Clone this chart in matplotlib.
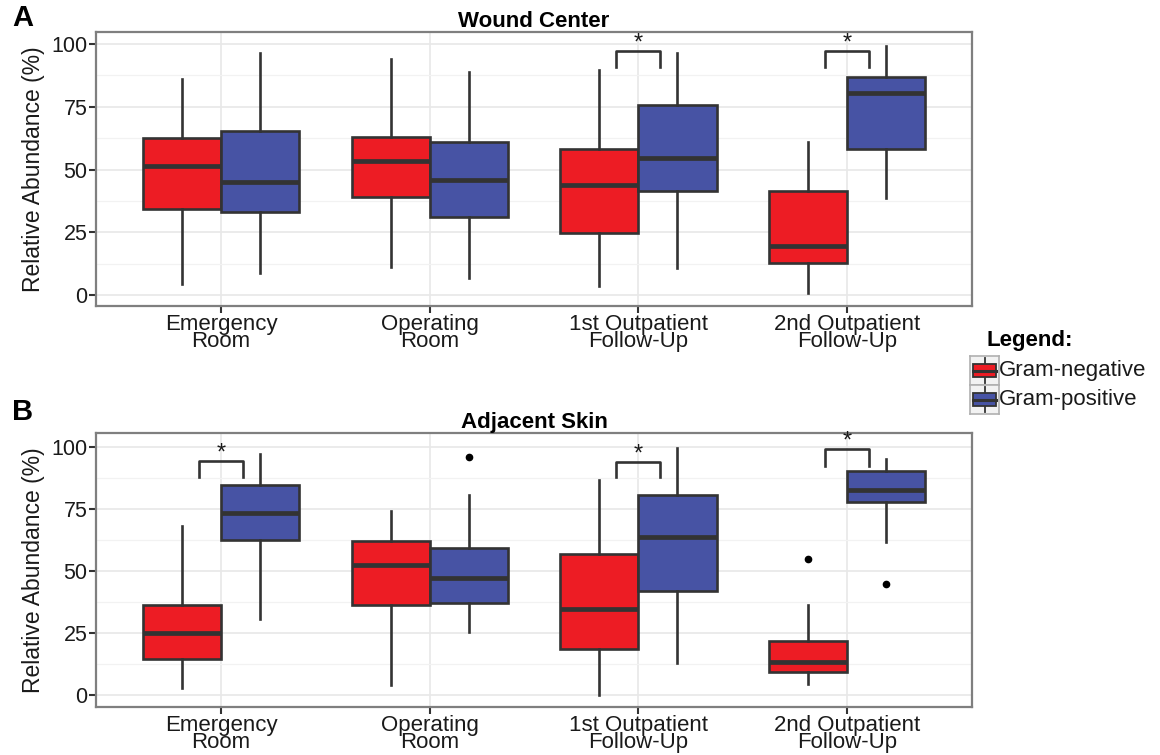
import matplotlib
matplotlib.use("Agg")
import matplotlib.pyplot as plt
from matplotlib.patches import Rectangle

plt.rcParams['font.family'] = ['Liberation Sans', 'DejaVu Sans']

groups = ["Emergency\nRoom", "Operating\nRoom", "1st Outpatient\nFollow-Up", "2nd Outpatient\nFollow-Up"]
series = ["Gram-negative", "Gram-positive"]
colors = ["#ED1C24", "#4753A4"]

# box stats per group: whislo, q1, med, q3, whishi
wound_neg = [[4.4, 34.3, 51.4, 62.5, 86.0],
             [11.0, 39.0, 53.5, 63.0, 94.0],
             [3.6, 24.5, 44.0, 58.0, 89.6],
             [0.8, 12.7, 19.5, 41.4, 61.0]]
wound_pos = [[8.8, 33.0, 45.0, 65.3, 96.4],
             [6.8, 31.0, 45.8, 61.0, 89.0],
             [10.8, 41.4, 54.6, 75.7, 96.4],
             [38.6, 58.0, 80.5, 86.9, 99.2]]
wound_neg_out = [[], [], [], []]
wound_pos_out = [[], [], [], []]

skin_neg = [[2.8, 14.5, 25.0, 36.3, 68.0],
            [4.0, 36.3, 52.4, 62.0, 74.0],
            [0.0, 18.5, 34.7, 56.9, 86.7],
            [4.4, 9.3, 13.3, 21.8, 36.3]]
skin_pos = [[30.6, 62.5, 73.4, 84.7, 97.0],
            [25.4, 37.0, 47.2, 59.3, 80.6],
            [12.9, 41.9, 63.7, 80.6, 99.6],
            [61.7, 77.8, 82.7, 90.3, 95.2]]
skin_neg_out = [[], [], [], [54.8]]
skin_pos_out = [[], [96.0], [], [44.8]]

# significant comparisons: (group index, bracket bottom, bracket top)
wound_sig = [(2, 90.8, 97.2), (3, 90.8, 97.2)]
skin_sig = [(0, 87.9, 94.4), (2, 87.9, 94.0), (3, 92.3, 99.2)]

edge = "#333333"
txt = "#1a1a1a"


def make_stats(vals, outs):
    st = []
    for v, o in zip(vals, outs):
        st.append(dict(whislo=v[0], q1=v[1], med=v[2], q3=v[3], whishi=v[4], fliers=o))
    return st


def draw_panel(ax, neg, pos, neg_out, pos_out, sig, title, ylim):
    xs = list(range(1, len(groups) + 1))
    w = 0.375
    for k, (vals, outs) in enumerate([(neg, neg_out), (pos, pos_out)]):
        p = [x + (k - 0.5) * w for x in xs]
        ax.bxp(make_stats(vals, outs), positions=p, widths=w, patch_artist=True,
               showcaps=False,
               boxprops=dict(facecolor=colors[k], edgecolor=edge, linewidth=1.9),
               medianprops=dict(color=edge, linewidth=3.4),
               whiskerprops=dict(color=edge, linewidth=1.9),
               flierprops=dict(marker='o', markerfacecolor='black', markeredgecolor='black',
                               markersize=4.5),
               zorder=3)
    for g, lo, hi in sig:
        c = g + 1
        ax.plot([c - 0.105, c - 0.105, c + 0.105, c + 0.105], [lo, hi, hi, lo],
                color=edge, linewidth=1.9, zorder=4)
        ax.text(c, hi - 1.5, "*", ha='center', va='bottom', fontsize=17, color=txt)
    ax.set_xlim(0.4, 4.6)
    ax.set_ylim(*ylim)
    ax.set_xticks(xs)
    ax.set_xticklabels(groups, fontsize=16, color=txt, linespacing=0.75)
    ax.set_yticks([0, 25, 50, 75, 100])
    ax.set_yticklabels(["0", "25", "50", "75", "100"], fontsize=15.5, color=txt)
    ax.set_yticks([12.5, 37.5, 62.5, 87.5], minor=True)
    ax.tick_params(axis='both', which='major', direction='out', length=5, width=1.5,
                   color=edge, pad=1)
    ax.tick_params(axis='y', which='minor', length=0)
    ax.grid(True, which='major', color='#e8e8e8', linewidth=1.2, zorder=0)
    ax.grid(True, which='minor', axis='y', color='#f2f2f2', linewidth=0.9, zorder=0)
    ax.set_axisbelow(True)
    for s in ax.spines.values():
        s.set_color('#7f7f7f')
        s.set_linewidth(1.6)
    ax.set_ylabel("Relative Abundance (%)", fontsize=16.5, color=txt, labelpad=5)
    ax.set_title(title, fontsize=16, fontweight='bold', color='black', pad=3)


fig = plt.figure(figsize=(11.6, 7.55), dpi=100)
axA = fig.add_axes([96 / 1160, 1 - 306 / 755, 876 / 1160, 274 / 755])
axB = fig.add_axes([96 / 1160, 1 - 707 / 755, 876 / 1160, 274 / 755])

draw_panel(axA, wound_neg, wound_pos, wound_neg_out, wound_pos_out, wound_sig,
           "Wound Center", (-4.4, 104.8))
draw_panel(axB, skin_neg, skin_pos, skin_neg_out, skin_pos_out, skin_sig,
           "Adjacent Skin", (-4.8, 105.6))

fig.text(12 / 1160, 1 - 18 / 755, "A", fontsize=21, fontweight='bold', va='center')
fig.text(12 / 1160, 1 - 412 / 755, "B", fontsize=21, fontweight='bold', va='center')

# legend
fig.text(986 / 1160, 1 - 340 / 755, "Legend:", fontsize=16, fontweight='bold', va='center')
for k, name in enumerate(series):
    top = 356 + k * 29
    kx = fig.add_axes([970 / 1160, 1 - (top + 29) / 755, 29 / 1160, 29 / 755])
    kx.set_xlim(0, 1)
    kx.set_ylim(0, 1)
    kx.set_xticks([])
    kx.set_yticks([])
    for s in kx.spines.values():
        s.set_color('#b0b0b0')
        s.set_linewidth(1.2)
    kx.set_facecolor('#f2f2f2')
    kx.plot([0.5, 0.5], [0.08, 0.92], color=edge, linewidth=1.3)
    kx.add_patch(Rectangle((0.1, 0.28), 0.8, 0.44, facecolor=colors[k], edgecolor=edge,
                           linewidth=1.3, zorder=3))
    kx.plot([0.1, 0.9], [0.5, 0.5], color=edge, linewidth=2.2, zorder=4)
    fig.text(999 / 1160, 1 - (top + 14) / 755, name, fontsize=16, va='center', color=txt)

fig.savefig("out.png", dpi=100)
